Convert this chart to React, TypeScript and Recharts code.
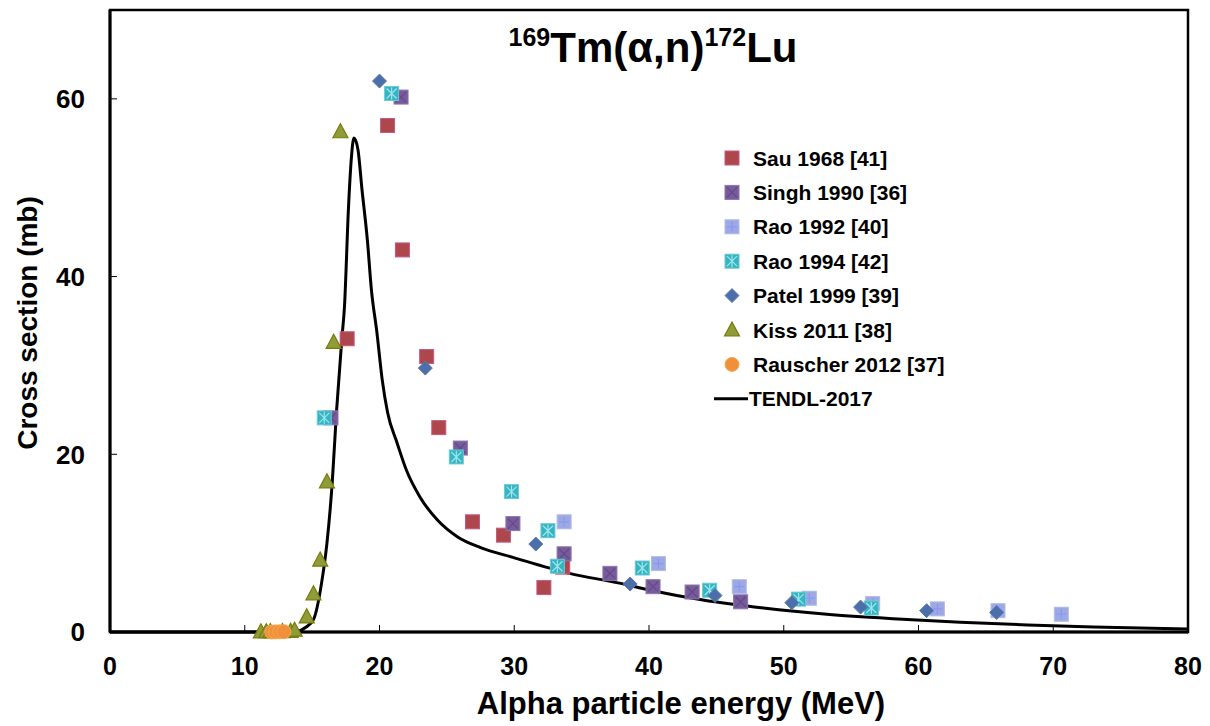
import React from "react";
import { ComposedChart, Line, Scatter, XAxis, YAxis, ReferenceArea } from "recharts";

const xTicks = [0, 10, 20, 30, 40, 50, 60, 70, 80];
const yTicks = [0, 20, 40, 60];

const sau = [
  { x: 17.6, y: 33.0 }, { x: 20.6, y: 57.0 }, { x: 21.7, y: 43.0 }, { x: 23.5, y: 31.0 },
  { x: 24.4, y: 23.0 }, { x: 26.9, y: 12.4 }, { x: 29.2, y: 10.9 }, { x: 32.2, y: 5.0 }, { x: 33.6, y: 7.3 },
];
const singh = [
  { x: 16.4, y: 24.1 }, { x: 21.6, y: 60.2 }, { x: 26.0, y: 20.7 }, { x: 29.9, y: 12.2 },
  { x: 33.7, y: 8.8 }, { x: 37.1, y: 6.6 }, { x: 40.3, y: 5.1 }, { x: 43.2, y: 4.5 }, { x: 46.8, y: 3.4 },
];
const rao1992 = [
  { x: 33.7, y: 12.4 }, { x: 40.7, y: 7.7 }, { x: 46.7, y: 5.1 }, { x: 51.9, y: 3.8 },
  { x: 56.6, y: 3.2 }, { x: 61.4, y: 2.6 }, { x: 65.9, y: 2.4 }, { x: 70.6, y: 2.0 },
];
const rao1994 = [
  { x: 15.9, y: 24.1 }, { x: 20.9, y: 60.6 }, { x: 25.7, y: 19.7 }, { x: 29.8, y: 15.8 },
  { x: 32.5, y: 11.4 }, { x: 33.2, y: 7.4 }, { x: 39.5, y: 7.2 }, { x: 44.5, y: 4.7 },
  { x: 51.1, y: 3.7 }, { x: 56.5, y: 2.7 },
];
const patel = [
  { x: 20.0, y: 62.0 }, { x: 23.4, y: 29.7 }, { x: 31.6, y: 9.9 }, { x: 38.6, y: 5.4 },
  { x: 44.9, y: 4.1 }, { x: 50.6, y: 3.3 }, { x: 55.7, y: 2.8 }, { x: 60.6, y: 2.4 }, { x: 65.8, y: 2.2 },
];
const kiss = [
  { x: 11.2, y: 0.02 }, { x: 11.6, y: 0.03 }, { x: 11.9, y: 0.04 }, { x: 12.8, y: 0.05 },
  { x: 13.4, y: 0.08 }, { x: 13.7, y: 0.2 }, { x: 14.6, y: 1.7 }, { x: 15.1, y: 4.3 },
  { x: 15.6, y: 8.1 }, { x: 16.1, y: 16.9 }, { x: 16.6, y: 32.6 }, { x: 17.1, y: 56.3 },
];
const rauscher = [
  { x: 12.0, y: 0.0 }, { x: 12.3, y: 0.01 }, { x: 12.6, y: 0.02 }, { x: 12.9, y: 0.03 },
];
const tendl = [
  { x: 0, y: 0 }, { x: 10, y: 0 }, { x: 13, y: 0 }, { x: 14, y: 0.1 }, { x: 14.5, y: 0.5 },
  { x: 15.1, y: 1.4 }, { x: 15.7, y: 5.5 }, { x: 16.1, y: 10 }, { x: 16.5, y: 17 },
  { x: 16.8, y: 24.6 }, { x: 17.2, y: 32.9 }, { x: 17.4, y: 36.6 }, { x: 17.7, y: 47.8 },
  { x: 17.9, y: 53.1 }, { x: 18.1, y: 55.6 }, { x: 18.4, y: 54.3 }, { x: 18.7, y: 49.8 },
  { x: 19.1, y: 44.1 }, { x: 19.4, y: 38.5 }, { x: 19.8, y: 33.8 }, { x: 20.2, y: 28.4 },
  { x: 20.6, y: 24.7 }, { x: 21.3, y: 21.3 }, { x: 22.0, y: 18.2 }, { x: 23.0, y: 15.2 },
  { x: 24.3, y: 12.6 }, { x: 25.8, y: 10.7 }, { x: 27.5, y: 9.5 }, { x: 29.9, y: 8.4 },
  { x: 34.1, y: 6.6 }, { x: 37.8, y: 5.5 }, { x: 40.1, y: 4.7 }, { x: 44.0, y: 3.6 },
  { x: 48.5, y: 2.7 }, { x: 53.2, y: 2.0 }, { x: 58.1, y: 1.5 }, { x: 63.1, y: 1.1 },
  { x: 68.1, y: 0.8 }, { x: 73.0, y: 0.56 }, { x: 80, y: 0.34 },
];

const seriesNames = [
  "Sau 1968 [41]", "Singh 1990 [36]", "Rao 1992 [40]", "Rao 1994 [42]",
  "Patel 1999 [39]", "Kiss 2011 [38]", "Rauscher 2012 [37]", "TENDL-2017",
];

const FONT = "'Liberation Sans', Arial, sans-serif";

type Kind = "sau" | "singh" | "rao92" | "rao94" | "patel" | "kiss" | "rauscher";

function Marker({ kind, cx, cy, s = 14 }: { kind: Kind; cx: number; cy: number; s?: number }) {
  const h = s / 2;
  if (kind === "sau")
    return <rect x={cx - h} y={cy - h} width={s} height={s} fill="#AE474B" stroke="#C45A86" strokeWidth={1} />;
  if (kind === "singh")
    return (
      <g>
        <rect x={cx - h} y={cy - h} width={s} height={s} fill="#775B9B" stroke="#8A74AE" strokeWidth={1} />
        <path d={`M${cx - h + 2},${cy - h + 2}L${cx + h - 2},${cy + h - 2}M${cx + h - 2},${cy - h + 2}L${cx - h + 2},${cy + h - 2}`} stroke="#62498A" strokeWidth={1.2} />
      </g>
    );
  if (kind === "rao92")
    return (
      <g>
        <rect x={cx - h} y={cy - h} width={s} height={s} fill="#9DA9E2" stroke="#B1BBEA" strokeWidth={1} />
        <path d={`M${cx},${cy - h + 2}L${cx},${cy + h - 2}M${cx - h + 2},${cy}L${cx + h - 2},${cy}`} stroke="#8B97F0" strokeWidth={1.2} />
      </g>
    );
  if (kind === "rao94")
    return (
      <g>
        <rect x={cx - h} y={cy - h} width={s} height={s} fill="#37B3C1" stroke="#6CCAD4" strokeWidth={1} />
        <path d={`M${cx - h + 2},${cy - h + 2}L${cx + h - 2},${cy + h - 2}M${cx + h - 2},${cy - h + 2}L${cx - h + 2},${cy + h - 2}M${cx},${cy - h + 1}L${cx},${cy + h - 1}`} stroke="#9AE6EC" strokeWidth={1.2} />
      </g>
    );
  if (kind === "patel")
    return <path d={`M${cx},${cy - 7}L${cx + 7},${cy}L${cx},${cy + 7}L${cx - 7},${cy}Z`} fill="#4C6EA9" stroke="#5A7AB2" strokeWidth={1} />;
  if (kind === "kiss")
    return <path d={`M${cx},${cy - 8}L${cx + 7.5},${cy + 6}L${cx - 7.5},${cy + 6}Z`} fill="#8E9D38" stroke="#7A7A08" strokeWidth={1.2} />;
  return <circle cx={cx} cy={cy} r={7} fill="#F0903A" stroke="#F8A850" strokeWidth={1} />;
}

const shapeFor = (kind: Kind) => (props: any) => {
  if (props.cx == null || props.cy == null) return <g />;
  return <Marker kind={kind} cx={props.cx} cy={props.cy} />;
};

const X_MARGIN = 22;
const Y_MARGIN = 25;

const XTick = (props: any) => {
  const { x, y, payload } = props;
  return (
    <g>
      <line x1={x} x2={x} y1={y - X_MARGIN} y2={y - X_MARGIN - 7} stroke="#000" strokeWidth={1} />
      <text x={x} y={y} dy="0.85em" textAnchor="middle" fontFamily={FONT} fontWeight="bold" fontSize={25} fill="#000">
        {payload.value}
      </text>
    </g>
  );
};

const YTick = (props: any) => {
  const { x, y, payload } = props;
  return (
    <g>
      <line x1={x + Y_MARGIN} x2={x + Y_MARGIN + 7} y1={y} y2={y} stroke="#000" strokeWidth={1} />
      <text x={x} y={y} dy="0.36em" textAnchor="end" fontFamily={FONT} fontWeight="bold" fontSize={26} fill="#000">
        {payload.value}
      </text>
    </g>
  );
};

const kinds: Kind[] = ["sau", "singh", "rao92", "rao94", "patel", "kiss", "rauscher"];

export default function App() {
  const legendX = 724;
  const legendY0 = 150;
  const rowH = 34.4;
  return (
    <div style={{ position: "relative", width: 1200, height: 718 }}>
      <ComposedChart width={1200} height={718} margin={{ top: 2, right: 20, bottom: 0, left: 0 }}>
        <XAxis
          dataKey="x"
          type="number"
          domain={[0, 80]}
          ticks={xTicks}
          tickSize={0}
          tickMargin={X_MARGIN}
          tick={<XTick />}
          height={94}
          axisLine={{ stroke: "#000", strokeWidth: 3 }}
          label={() => (
            <text x={673} y={706} textAnchor="middle" fontFamily={FONT} fontWeight="bold" fontSize={31} fill="#000">
              Alpha particle energy (MeV)
            </text>
          )}
        />
        <YAxis
          dataKey="y"
          type="number"
          domain={[0, 70]}
          ticks={yTicks}
          tickSize={0}
          tickMargin={Y_MARGIN}
          tick={<YTick />}
          width={102}
          axisLine={{ stroke: "#000", strokeWidth: 3 }}
          label={() => (
            <text x={19} y={315} transform="rotate(-90 19 315)" textAnchor="middle" dy="0.35em" fontFamily={FONT} fontWeight="bold" fontSize={28} fill="#000">
              Cross section (mb)
            </text>
          )}
        />
        <ReferenceArea x1={0} x2={80} y1={0} y2={70} fill="none" stroke="#000" strokeWidth={2.5} ifOverflow="visible" />
        <Line data={tendl} dataKey="y" type="monotone" stroke="#000" strokeWidth={3} dot={false} isAnimationActive={false} />
        <Scatter data={sau} dataKey="y" shape={shapeFor("sau")} isAnimationActive={false} />
        <Scatter data={singh} dataKey="y" shape={shapeFor("singh")} isAnimationActive={false} />
        <Scatter data={rao1992} dataKey="y" shape={shapeFor("rao92")} isAnimationActive={false} />
        <Scatter data={rao1994} dataKey="y" shape={shapeFor("rao94")} isAnimationActive={false} />
        <Scatter data={patel} dataKey="y" shape={shapeFor("patel")} isAnimationActive={false} />
        <Scatter data={kiss} dataKey="y" shape={shapeFor("kiss")} isAnimationActive={false} />
        <Scatter data={rauscher} dataKey="y" shape={shapeFor("rauscher")} isAnimationActive={false} />
      </ComposedChart>
      <svg width={1200} height={718} style={{ position: "absolute", left: 0, top: 0, pointerEvents: "none" }}>
        <text x={645} y={54} textAnchor="middle" fontFamily={FONT} fontWeight="bold" fontSize={42} fill="#000">
          <tspan fontSize={25} dy={-16}>169</tspan>
          <tspan dy={16}>Tm(α,n)</tspan>
          <tspan fontSize={25} dy={-16}>172</tspan>
          <tspan dy={16}>Lu</tspan>
        </text>
        {seriesNames.map((name, i) => {
          const cy = legendY0 + i * rowH;
          return (
            <g key={name}>
              {i < 7 ? (
                <Marker kind={kinds[i]} cx={legendX} cy={cy} s={14} />
              ) : (
                <line x1={706} x2={740} y1={cy} y2={cy} stroke="#000" strokeWidth={3} />
              )}
              <text x={i < 7 ? 745 : 741} y={cy} dy="0.36em" fontFamily={FONT} fontWeight="bold" fontSize={21} fill="#000">
                {name}
              </text>
            </g>
          );
        })}
      </svg>
    </div>
  );
}
